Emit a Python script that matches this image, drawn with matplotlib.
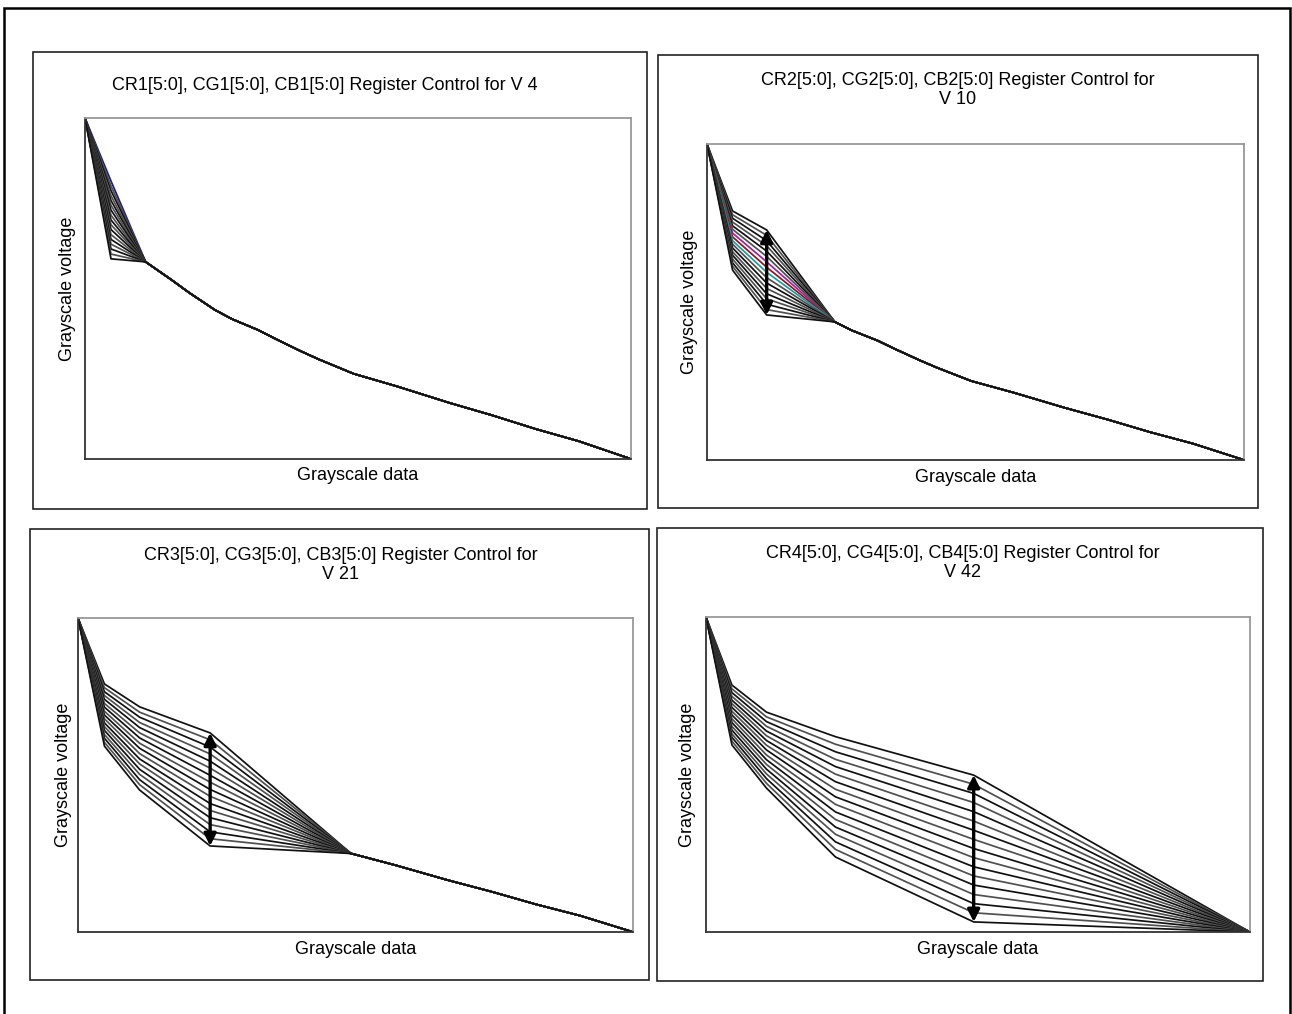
"""
Gamma register control curves: grayscale voltage vs grayscale data for V4, V10, V21, V42.
"""
import matplotlib
matplotlib.use("Agg")
import matplotlib.pyplot as plt
from matplotlib.patches import Rectangle

plt.rcParams['font.family'] = ['Liberation Sans', 'DejaVu Sans']

W, H = 1292, 1014

# common tail of the gamma curve (grayscale level -> voltage, 0..100)
common_x = [7, 10, 12, 15, 17, 20, 22, 25, 27, 31, 36, 42, 47, 52, 57, 63]
common_v = [57.8, 52.5, 48.8, 43.7, 41.0, 37.8, 35.2, 31.5, 29.2, 25.0, 21.3, 16.5, 12.8, 8.8, 5.2, 0]

# knot values of each curve (17 register settings per panel)
p1_v3 = [81.5, 80.1, 78.7, 77.2, 75.8, 74.4, 73.0, 71.5, 70.1, 68.7, 67.3, 65.8, 64.4, 63.0, 61.6, 60.1, 58.7]

p2_v3 = [78.8, 77.6, 76.5, 75.3, 74.1, 73.0, 71.8, 70.6, 69.4, 68.3, 67.1, 65.9, 64.8, 63.6, 62.4, 61.3, 60.1]
p2_v7 = [72.8, 71.1, 69.4, 67.8, 66.1, 64.4, 62.7, 61.0, 59.4, 57.7, 56.0, 54.3, 52.6, 51.0, 49.3, 47.6, 45.9]

p3_v3 = [79.0, 77.8, 76.5, 75.3, 74.1, 72.8, 71.6, 70.3, 69.1, 67.9, 66.6, 65.4, 64.2, 62.9, 61.7, 60.4, 59.2]
p3_v7 = [71.7, 70.0, 68.4, 66.7, 65.1, 63.4, 61.8, 60.1, 58.5, 56.8, 55.1, 53.5, 51.8, 50.2, 48.5, 46.9, 45.2]
p3_v15 = [63.4, 61.2, 58.9, 56.7, 54.4, 52.2, 49.9, 47.7, 45.4, 43.2, 40.9, 38.7, 36.4, 34.2, 31.9, 29.7, 27.4]

p4_v3 = [78.4, 77.2, 76.0, 74.8, 73.6, 72.5, 71.3, 70.1, 68.9, 67.7, 66.5, 65.3, 64.1, 62.9, 61.8, 60.6, 59.4]
p4_v7 = [69.8, 68.3, 66.8, 65.3, 63.8, 62.3, 60.8, 59.3, 57.8, 56.2, 54.7, 53.2, 51.7, 50.2, 48.7, 47.2, 45.7]
p4_v15 = [62.0, 59.6, 57.2, 54.8, 52.5, 50.1, 47.7, 45.3, 42.9, 40.5, 38.1, 35.7, 33.3, 31.0, 28.6, 26.2, 23.8]
p4_v31 = [49.8, 46.9, 44.0, 41.1, 38.2, 35.2, 32.3, 29.4, 26.5, 23.6, 20.7, 17.8, 14.9, 11.9, 9.0, 6.1, 3.2]

titles = [
    "CR1[5:0], CG1[5:0], CB1[5:0] Register Control for V 4",
    "CR2[5:0], CG2[5:0], CB2[5:0] Register Control for\nV 10",
    "CR3[5:0], CG3[5:0], CB3[5:0] Register Control for\nV 21",
    "CR4[5:0], CG4[5:0], CB4[5:0] Register Control for\nV 42",
]

# pixel layout: panel box, axes box, title centre
boxes = [(33, 52, 647, 509), (658, 55, 1258, 508), (30, 529, 649, 980), (657, 528, 1263, 981)]
axboxes = [(85, 118, 631, 459), (707, 144, 1244, 460), (78, 618, 633, 932), (706, 617, 1250, 932)]
title_pos = [(325, 85), (958, 90), (341, 565), (963, 563)]
ylab_x = [67, 690, 63, 688]

line_cols = ['#111111', '#505050']
special = {1: {6: '#a0209a', 7: '#9b1020', 8: '#10a0a0'}, 0: {0: '#1a1a8c'}}


def curves(panel):
    """return list of (x, v) for each curve in a panel"""
    out = []
    for i in range(17):
        if panel == 0:
            xs = [0, 3] + common_x
            vs = [100, p1_v3[i]] + common_v
        elif panel == 1:
            k = common_x.index(15)
            xs = [0, 3, 7] + common_x[k:]
            vs = [100, p2_v3[i], p2_v7[i]] + common_v[k:]
        elif panel == 2:
            k = common_x.index(31)
            xs = [0, 3, 7, 15] + common_x[k:]
            vs = [100, p3_v3[i], p3_v7[i], p3_v15[i]] + common_v[k:]
        else:
            xs = [0, 3, 7, 15, 31, 63]
            vs = [100, p4_v3[i], p4_v7[i], p4_v15[i], p4_v31[i], 0]
        out.append((xs, vs))
    return out


arrows = {1: (7, p2_v7), 2: (15, p3_v15), 3: (31, p4_v31)}

fig = plt.figure(figsize=(W / 100, H / 100), dpi=100)

# outer frame (open at the bottom)
fig.patches.append(Rectangle((4 / W, -0.05), (1290 - 4) / W, 1.05 - 8 / H, transform=fig.transFigure,
                             fill=False, edgecolor='black', lw=1.8))

for p in range(4):
    x0, y0, x1, y1 = boxes[p]
    fig.patches.append(Rectangle((x0 / W, 1 - y1 / H), (x1 - x0) / W, (y1 - y0) / H,
                                 transform=fig.transFigure, fill=False, edgecolor='#222222', lw=1.2))
    ax0, ay0, ax1, ay1 = axboxes[p]
    ax = fig.add_axes([ax0 / W, 1 - ay1 / H, (ax1 - ax0) / W, (ay1 - ay0) / H])
    for i, (xs, vs) in enumerate(curves(p)):
        c = special.get(p, {}).get(i)
        if c is None:
            ax.plot(xs, vs, color=line_cols[i % 2], lw=1.25, zorder=2)
        else:
            ax.plot(xs, vs, color=c, lw=1.25, zorder=1.9)
    if p in arrows:
        xa, vals = arrows[p]
        ax.annotate('', xy=(xa, vals[-1]), xytext=(xa, vals[0]),
                    arrowprops=dict(arrowstyle='<|-|>', color='black', lw=2.4,
                                    mutation_scale=18, shrinkA=0, shrinkB=0), zorder=5)
    ax.set_xlim(0, 63)
    ax.set_ylim(0, 100)
    ax.set_xticks([])
    ax.set_yticks([])
    for s in ['left', 'bottom']:
        ax.spines[s].set_color('#333333')
        ax.spines[s].set_linewidth(1.3)
    for s in ['top', 'right']:
        ax.spines[s].set_color('#999999')
        ax.spines[s].set_linewidth(1.3)

    tx, ty = title_pos[p]
    fig.text(tx / W, 1 - ty / H, titles[p], ha='center', va='center', fontsize=13, linespacing=1.2)
    fig.text(ylab_x[p] / W, 1 - (ay0 + ay1) / 2 / H, "Grayscale voltage", rotation=90,
             ha='center', va='center', fontsize=13)
    fig.text((ax0 + ax1) / 2 / W, 1 - (ay1 + 17) / H, "Grayscale data", ha='center', va='center',
             fontsize=13)

fig.savefig('out.png', dpi=100)
